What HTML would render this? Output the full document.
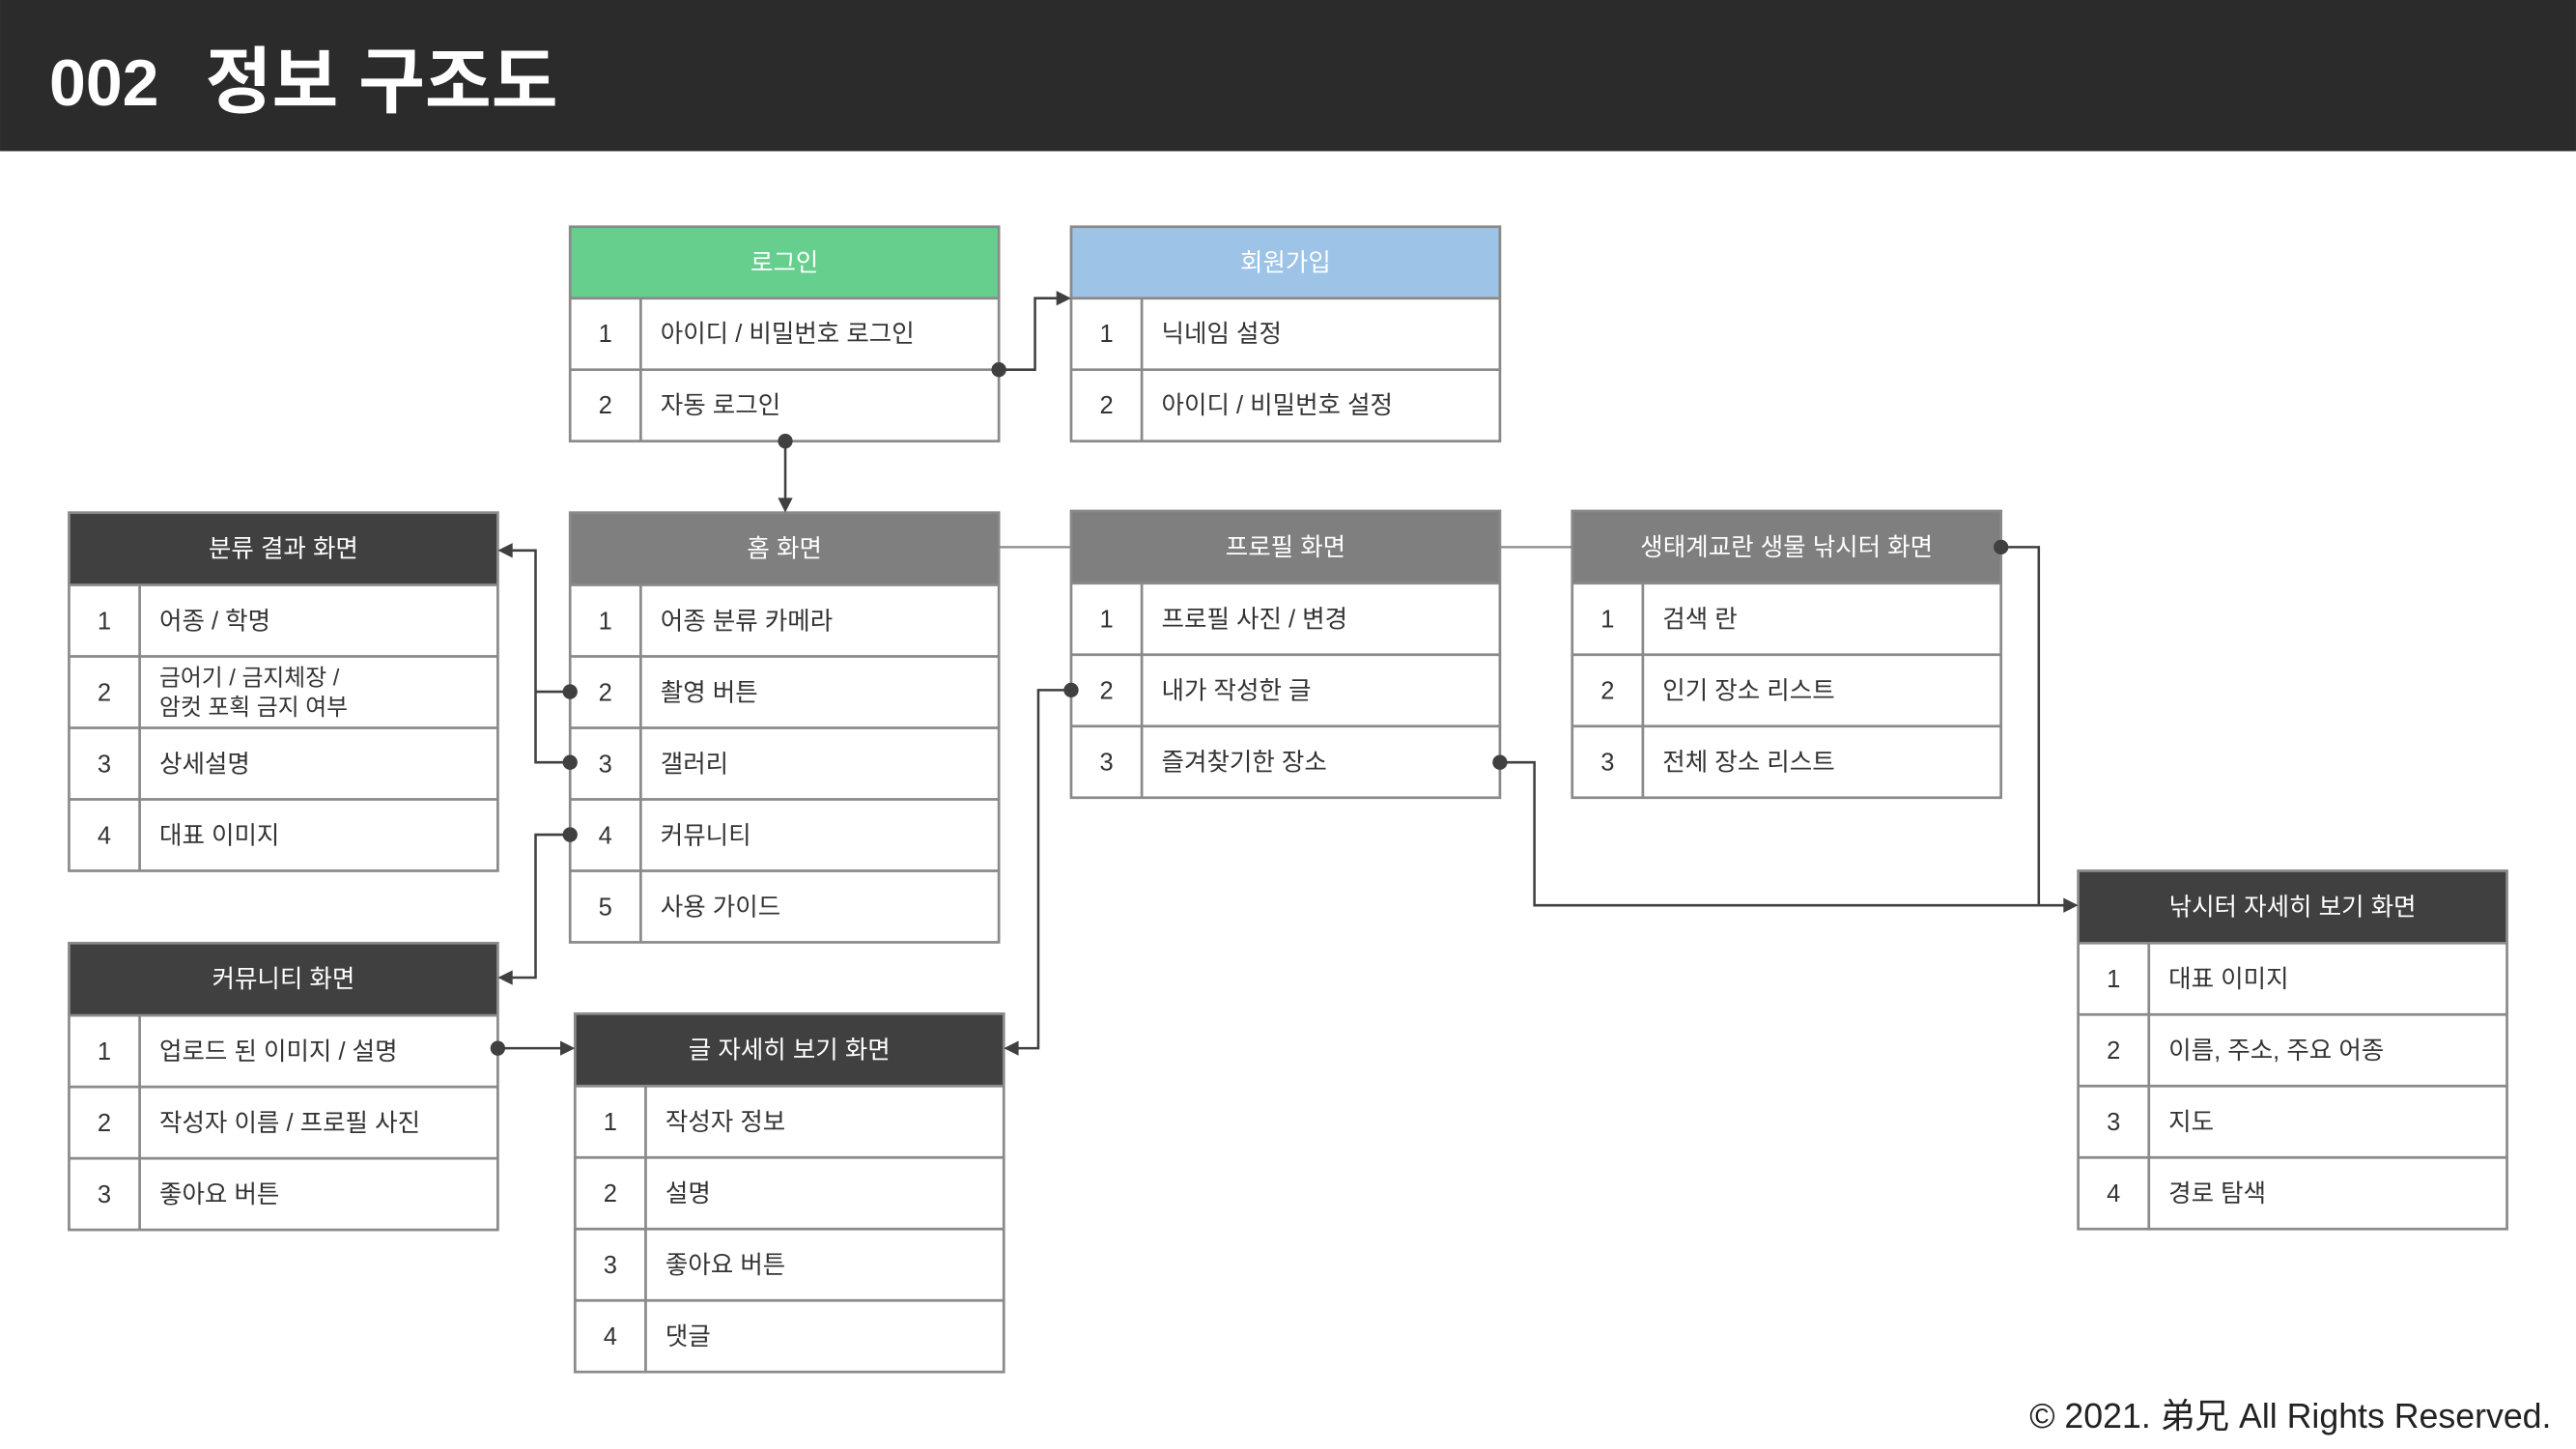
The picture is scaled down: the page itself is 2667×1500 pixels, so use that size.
<!DOCTYPE html>
<html><head><meta charset="utf-8"><style>
html,body{margin:0;padding:0;background:#fff;}
svg{display:block;}
text{font-family:"Liberation Sans","Noto Sans CJK KR",sans-serif;}
.h{fill:#fff;font-size:15px;text-anchor:middle;}
.n{fill:#333;font-size:15px;text-anchor:middle;}
.t{fill:#333;font-size:15px;}
.b{fill:none;stroke:#8a8a8a;stroke-width:1.6;}
.c{fill:none;stroke:#404040;stroke-width:1.5;}
.a{fill:#404040;}
</style></head><body>
<svg width="2667" height="1500" viewBox="0 0 1568 881.9" xmlns="http://www.w3.org/2000/svg">
<rect x="0" y="0" width="1568" height="92" fill="#2b2b2b"/>
<text x="30" y="64" style="font-size:40px;font-weight:bold;fill:#fff;">002</text>
<text x="125" y="65" style="font-size:44px;font-weight:bold;fill:#fff;">정보 구조도</text>

<!-- 로그인 -->
<g>
<rect x="347" y="138" width="261" height="43.5" fill="#66cf8e"/>
<rect x="347" y="138" width="261" height="130.5" class="b"/>
<line x1="347" y1="181.5" x2="608" y2="181.5" class="b"/>
<line x1="347" y1="225" x2="608" y2="225" class="b"/>
<line x1="390" y1="181.5" x2="390" y2="268.5" class="b"/>
<text class="h" x="477.5" y="165">로그인</text>
<text class="n" x="368.5" y="208">1</text><text class="t" x="402" y="208">아이디 / 비밀번호 로그인</text>
<text class="n" x="368.5" y="251.5">2</text><text class="t" x="402" y="251.5">자동 로그인</text>
</g>
<!-- 회원가입 -->
<g>
<rect x="652" y="138" width="261" height="43.5" fill="#9dc3e6"/>
<rect x="652" y="138" width="261" height="130.5" class="b"/>
<line x1="652" y1="181.5" x2="913" y2="181.5" class="b"/>
<line x1="652" y1="225" x2="913" y2="225" class="b"/>
<line x1="695" y1="181.5" x2="695" y2="268.5" class="b"/>
<text class="h" x="782.5" y="165">회원가입</text>
<text class="n" x="673.5" y="208">1</text><text class="t" x="707" y="208">닉네임 설정</text>
<text class="n" x="673.5" y="251.5">2</text><text class="t" x="707" y="251.5">아이디 / 비밀번호 설정</text>
</g>
<!-- 홈 화면 -->
<g>
<rect x="347" y="312" width="261" height="44" fill="#7f7f7f"/>
<rect x="347" y="312" width="261" height="261.5" class="b"/>
<line x1="347" y1="356" x2="608" y2="356" class="b"/>
<line x1="347" y1="399.5" x2="608" y2="399.5" class="b"/>
<line x1="347" y1="443" x2="608" y2="443" class="b"/>
<line x1="347" y1="486.5" x2="608" y2="486.5" class="b"/>
<line x1="347" y1="530" x2="608" y2="530" class="b"/>
<line x1="390" y1="356" x2="390" y2="573.5" class="b"/>
<text class="h" x="477.5" y="339">홈 화면</text>
<text class="n" x="368.5" y="383">1</text><text class="t" x="402" y="383">어종 분류 카메라</text>
<text class="n" x="368.5" y="426.5">2</text><text class="t" x="402" y="426.5">촬영 버튼</text>
<text class="n" x="368.5" y="470">3</text><text class="t" x="402" y="470">갤러리</text>
<text class="n" x="368.5" y="513.5">4</text><text class="t" x="402" y="513.5">커뮤니티</text>
<text class="n" x="368.5" y="557">5</text><text class="t" x="402" y="557">사용 가이드</text>
</g>
<!-- 프로필 화면 -->
<g>
<rect x="652" y="311" width="261" height="44" fill="#7f7f7f"/>
<rect x="652" y="311" width="261" height="174.5" class="b"/>
<line x1="652" y1="355" x2="913" y2="355" class="b"/>
<line x1="652" y1="398.5" x2="913" y2="398.5" class="b"/>
<line x1="652" y1="442" x2="913" y2="442" class="b"/>
<line x1="695" y1="355" x2="695" y2="485.5" class="b"/>
<text class="h" x="782.5" y="338">프로필 화면</text>
<text class="n" x="673.5" y="382">1</text><text class="t" x="707" y="382">프로필 사진 / 변경</text>
<text class="n" x="673.5" y="425.5">2</text><text class="t" x="707" y="425.5">내가 작성한 글</text>
<text class="n" x="673.5" y="469">3</text><text class="t" x="707" y="469">즐겨찾기한 장소</text>
</g>
<!-- 생태계교란 -->
<g>
<rect x="957" y="311" width="261" height="44" fill="#7f7f7f"/>
<rect x="957" y="311" width="261" height="174.5" class="b"/>
<line x1="957" y1="355" x2="1218" y2="355" class="b"/>
<line x1="957" y1="398.5" x2="1218" y2="398.5" class="b"/>
<line x1="957" y1="442" x2="1218" y2="442" class="b"/>
<line x1="1000" y1="355" x2="1000" y2="485.5" class="b"/>
<text class="h" x="1087.5" y="338">생태계교란 생물 낚시터 화면</text>
<text class="n" x="978.5" y="382">1</text><text class="t" x="1012" y="382">검색 란</text>
<text class="n" x="978.5" y="425.5">2</text><text class="t" x="1012" y="425.5">인기 장소 리스트</text>
<text class="n" x="978.5" y="469">3</text><text class="t" x="1012" y="469">전체 장소 리스트</text>
</g>
<!-- 분류 결과 -->
<g>
<rect x="42" y="312" width="261" height="44" fill="#404040"/>
<rect x="42" y="312" width="261" height="218" class="b"/>
<line x1="42" y1="356" x2="303" y2="356" class="b"/>
<line x1="42" y1="399.5" x2="303" y2="399.5" class="b"/>
<line x1="42" y1="443" x2="303" y2="443" class="b"/>
<line x1="42" y1="486.5" x2="303" y2="486.5" class="b"/>
<line x1="85" y1="356" x2="85" y2="530" class="b"/>
<text class="h" x="172.5" y="339">분류 결과 화면</text>
<text class="n" x="63.5" y="383">1</text><text class="t" x="97" y="383">어종 / 학명</text>
<text class="n" x="63.5" y="426.5">2</text><text class="t" x="97" y="417" style="font-size:14px">금어기 / 금지체장 /</text><text class="t" x="97" y="435" style="font-size:14px">암컷 포획 금지 여부</text>
<text class="n" x="63.5" y="470">3</text><text class="t" x="97" y="470">상세설명</text>
<text class="n" x="63.5" y="513.5">4</text><text class="t" x="97" y="513.5">대표 이미지</text>
</g>
<!-- 커뮤니티 -->
<g>
<rect x="42" y="574" width="261" height="44" fill="#404040"/>
<rect x="42" y="574" width="261" height="174.5" class="b"/>
<line x1="42" y1="618" x2="303" y2="618" class="b"/>
<line x1="42" y1="661.5" x2="303" y2="661.5" class="b"/>
<line x1="42" y1="705" x2="303" y2="705" class="b"/>
<line x1="85" y1="618" x2="85" y2="748.5" class="b"/>
<text class="h" x="172.5" y="601">커뮤니티 화면</text>
<text class="n" x="63.5" y="645">1</text><text class="t" x="97" y="645">업로드 된 이미지 / 설명</text>
<text class="n" x="63.5" y="688.5">2</text><text class="t" x="97" y="688.5">작성자 이름 / 프로필 사진</text>
<text class="n" x="63.5" y="732">3</text><text class="t" x="97" y="732">좋아요 버튼</text>
</g>
<!-- 글 자세히 -->
<g>
<rect x="350" y="617" width="261" height="44" fill="#404040"/>
<rect x="350" y="617" width="261" height="218" class="b"/>
<line x1="350" y1="661" x2="611" y2="661" class="b"/>
<line x1="350" y1="704.5" x2="611" y2="704.5" class="b"/>
<line x1="350" y1="748" x2="611" y2="748" class="b"/>
<line x1="350" y1="791.5" x2="611" y2="791.5" class="b"/>
<line x1="393" y1="661" x2="393" y2="835" class="b"/>
<text class="h" x="480.5" y="644">글 자세히 보기 화면</text>
<text class="n" x="371.5" y="688">1</text><text class="t" x="405" y="688">작성자 정보</text>
<text class="n" x="371.5" y="731.5">2</text><text class="t" x="405" y="731.5">설명</text>
<text class="n" x="371.5" y="775">3</text><text class="t" x="405" y="775">좋아요 버튼</text>
<text class="n" x="371.5" y="818.5">4</text><text class="t" x="405" y="818.5">댓글</text>
</g>
<!-- 낚시터 자세히 -->
<g>
<rect x="1265" y="530" width="261" height="44" fill="#404040"/>
<rect x="1265" y="530" width="261" height="218" class="b"/>
<line x1="1265" y1="574" x2="1526" y2="574" class="b"/>
<line x1="1265" y1="617.5" x2="1526" y2="617.5" class="b"/>
<line x1="1265" y1="661" x2="1526" y2="661" class="b"/>
<line x1="1265" y1="704.5" x2="1526" y2="704.5" class="b"/>
<line x1="1308" y1="574" x2="1308" y2="748" class="b"/>
<text class="h" x="1395.5" y="557">낚시터 자세히 보기 화면</text>
<text class="n" x="1286.5" y="601">1</text><text class="t" x="1320" y="601">대표 이미지</text>
<text class="n" x="1286.5" y="644.5">2</text><text class="t" x="1320" y="644.5">이름, 주소, 주요 어종</text>
<text class="n" x="1286.5" y="688">3</text><text class="t" x="1320" y="688">지도</text>
<text class="n" x="1286.5" y="731.5">4</text><text class="t" x="1320" y="731.5">경로 탐색</text>
</g>

<!-- connectors -->
<line x1="608" y1="333" x2="652" y2="333" stroke="#8a8a8a" stroke-width="1.3"/>
<line x1="913" y1="333" x2="957" y2="333" stroke="#8a8a8a" stroke-width="1.3"/>

<polyline class="c" points="608,225 630,225 630,181.5 645,181.5"/>
<circle class="a" cx="608" cy="225" r="4.5"/>
<polygon class="a" points="652,181.5 643,177 643,186"/>

<line class="c" x1="478" y1="268.5" x2="478" y2="305"/>
<circle class="a" cx="478" cy="268.5" r="4.5"/>
<polygon class="a" points="478,312 473.5,303 482.5,303"/>

<polyline class="c" points="347,421 326,421"/>
<polyline class="c" points="347,464 326,464 326,335 310,335"/>
<circle class="a" cx="347" cy="421" r="4.5"/>
<circle class="a" cx="347" cy="464" r="4.5"/>
<polygon class="a" points="303,335 312,330.5 312,339.5"/>

<polyline class="c" points="347,508 326,508 326,595 310,595"/>
<circle class="a" cx="347" cy="508" r="4.5"/>
<polygon class="a" points="303,595 312,590.5 312,599.5"/>

<line class="c" x1="303" y1="638" x2="343" y2="638"/>
<circle class="a" cx="303" cy="638" r="4.5"/>
<polygon class="a" points="350,638 341,633.5 341,642.5"/>

<polyline class="c" points="652,420 632,420 632,638 618,638"/>
<circle class="a" cx="652" cy="420" r="4.5"/>
<polygon class="a" points="611,638 620,633.5 620,642.5"/>

<polyline class="c" points="913,464 934,464 934,551 1258,551"/>
<circle class="a" cx="913" cy="464" r="4.5"/>
<polyline class="c" points="1218,333 1241,333 1241,551"/>
<circle class="a" cx="1218" cy="333" r="4.5"/>
<polygon class="a" points="1265,551 1256,546.5 1256,555.5"/>

<text x="1553" y="869" style="font-size:21px;fill:#222;text-anchor:end;">© 2021. 弟兄 All Rights Reserved.</text>
</svg>
</body></html>
